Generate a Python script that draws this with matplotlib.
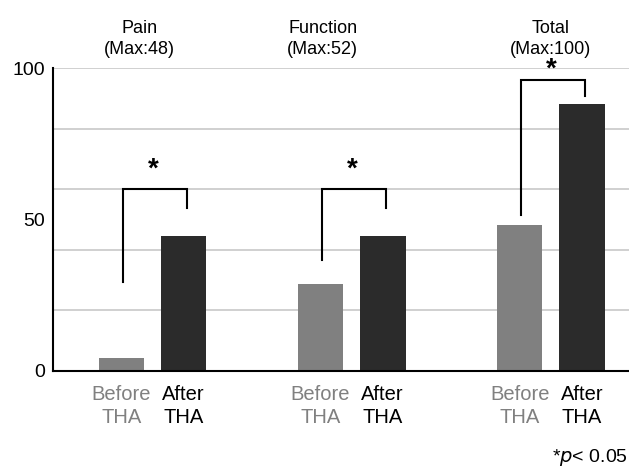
import matplotlib
matplotlib.use("Agg")
import matplotlib.pyplot as plt
import numpy as np

plt.rcParams['font.family'] = ['Liberation Sans', 'DejaVu Sans']

# data
groups = ['Pain', 'Function', 'Total']
group_max = [48, 52, 100]
before_tha = [4.3, 28.8, 48.4]
after_tha = [44.6, 44.6, 88.4]
bar_labels = ['Before\nTHA', 'After\nTHA']

# significance brackets: (left foot, top, right foot, star height)
brackets = [
    (29.4, 60.2, 53.8, 66.4),
    (36.7, 60.2, 54.0, 66.4),
    (51.6, 96.2, 90.9, 99.6),
]
title_x = [-0.064, 0.855, 1.999]

col_before = '#808080'
col_after = '#2b2b2b'

fig = plt.figure(figsize=(6.29, 4.69), dpi=100)
ax = fig.add_axes([0.0843, 0.209, 0.9157, 0.645])

x = np.arange(len(groups))
w = 0.229
off = 0.156
ax.bar(x - off, before_tha, w, color=col_before, zorder=3)
ax.bar(x + off, after_tha, w, color=col_after, zorder=3)

ax.set_xlim(-0.5, 2.393)
ax.set_ylim(0, 100)
ax.set_yticks([0, 50, 100])
ax.set_yticklabels(['0', '50', '100'], fontsize=14)
ax.tick_params(axis='y', length=0, pad=6)
for g in [20, 40, 60, 80, 100]:
    ax.axhline(g, color='#c8c8c8', lw=1.2, zorder=1)

ax.set_xticks([])
for s in ['top', 'right']:
    ax.spines[s].set_visible(False)
ax.spines['left'].set_linewidth(1.5)
ax.spines['bottom'].set_linewidth(1.5)
ax.spines['left'].set_zorder(4)
ax.spines['bottom'].set_zorder(4)

trans = ax.get_xaxis_transform()
for i in range(len(groups)):
    ax.text(x[i] - off, -0.045, bar_labels[0], transform=trans, ha='center', va='top',
            fontsize=14.5, color=col_before, linespacing=1.3)
    ax.text(x[i] + off, -0.045, bar_labels[1], transform=trans, ha='center', va='top',
            fontsize=14.5, color='black', linespacing=1.3)
    ax.text(title_x[i], 1.033, '%s\n(Max:%d)' % (groups[i], group_max[i]), transform=trans,
            ha='center', va='bottom', fontsize=13, linespacing=1.35)

    lf, top, rf, star = brackets[i]
    xl = x[i] - off + 0.005
    xr = x[i] + off + 0.018
    ax.plot([xl, xl, xr, xr], [lf, top, top, rf], color='black', lw=1.5,
            zorder=5, clip_on=False, solid_joinstyle='miter')
    ax.text((xl + xr) / 2 - 0.01, star, '*', ha='center', va='center',
            fontsize=20, fontweight='bold', zorder=5)

fig.text(0.998, 0.025, '*$\\it{p}$< 0.05', ha='right', va='center', fontsize=14)

fig.savefig('out.png', dpi=100)
